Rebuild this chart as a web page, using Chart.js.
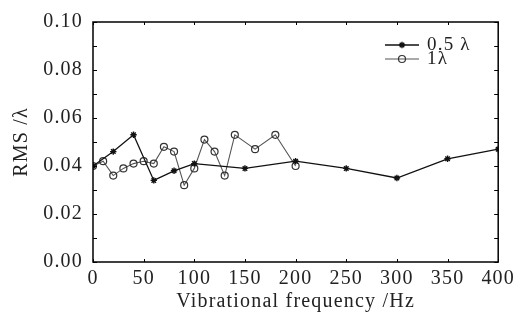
<!DOCTYPE html>
<html>
<head>
<meta charset="utf-8">
<script src="https://cdn.jsdelivr.net/npm/chart.js@4/dist/chart.umd.min.js"></script>
<style>
  html, body { margin: 0; padding: 0; background: #fff; }
  #wrap { width: 520px; height: 324px; }
</style>
</head>
<body>
<div id="wrap"><canvas id="rmsChart"></canvas></div>
<script>
// data
const halfLambdaFreq = [0, 20, 40, 60, 80, 100, 150, 200, 250, 300, 350, 400]
const halfLambdaRms  = [0.040, 0.046, 0.053, 0.034, 0.038, 0.041, 0.039, 0.042, 0.039, 0.035, 0.043, 0.047]
const oneLambdaFreq  = [0, 10, 20, 30, 40, 50, 60, 70, 80, 90, 100, 110, 120, 130, 140, 160, 180, 200]
const oneLambdaRms   = [0.040, 0.042, 0.036, 0.039, 0.041, 0.042, 0.041, 0.048, 0.046, 0.032, 0.039, 0.051, 0.046, 0.036, 0.053, 0.047, 0.053, 0.040]
const seriesNames = ['0.5 \u03bb', '1\u03bb']
const xTicks = [0, 50, 100, 150, 200, 250, 300, 350, 400]
const yTicks = [0, 0.02, 0.04, 0.06, 0.08, 0.10]
const yTickLabels = ['0.00', '0.02', '0.04', '0.06', '0.08', '0.10']
const yMinorStep = 0.01

const serif = "'Liberation Serif', 'Times New Roman', serif"
const ink = '#222'

const toPoints = (xs, ys) => xs.map((x, i) => ({x: x, y: ys[i]}))

// wide glyph spacing like the scanned figure
const spacing = {
    id: 'spacing',
    beforeLayout(chart) { chart.ctx.letterSpacing = '1.2px' },
    beforeDraw(chart) { chart.ctx.letterSpacing = '1.2px' }
}

// box around the plot with inward ticks on all sides
const frame = {
    id: 'frame',
    afterDatasetsDraw(chart) {
        const {ctx, chartArea: a, scales: {x, y}} = chart
        ctx.save()
        ctx.strokeStyle = '#000'
        ctx.lineWidth = 1.5
        ctx.strokeRect(a.left, a.top, a.right - a.left, a.bottom - a.top)
        ctx.lineWidth = 1
        ctx.beginPath()
        for (let v = 0; v <= 0.1 + 1e-9; v += yMinorStep) {
            const py = Math.round(y.getPixelForValue(v)) + 0.5
            ctx.moveTo(a.left, py); ctx.lineTo(a.left + 4, py)
            ctx.moveTo(a.right, py); ctx.lineTo(a.right - 4, py)
        }
        xTicks.forEach(v => {
            const px = Math.round(x.getPixelForValue(v)) + 0.5
            ctx.moveTo(px, a.bottom); ctx.lineTo(px, a.bottom - 3)
            ctx.moveTo(px, a.top); ctx.lineTo(px, a.top + 3)
        })
        ctx.stroke()
        ctx.restore()
    }
}

// legend drawn inside the plot, line + marker + label
const innerLegend = {
    id: 'innerLegend',
    afterDraw(chart) {
        const ctx = chart.ctx
        const rows = [45, 59]
        ctx.save()
        ctx.letterSpacing = '1.2px'
        chart.data.datasets.forEach((ds, i) => {
            const yy = rows[i]
            ctx.strokeStyle = ds.borderColor
            ctx.lineWidth = ds.borderWidth
            ctx.beginPath()
            ctx.moveTo(385, yy); ctx.lineTo(419, yy)
            ctx.stroke()
            ctx.strokeStyle = ds.pointBorderColor
            ctx.fillStyle = ds.pointBackgroundColor
            ctx.lineWidth = ds.pointBorderWidth
            Chart.helpers.drawPoint(ctx, {pointStyle: ds.pointStyle, radius: ds.pointRadius, borderWidth: ds.pointBorderWidth, rotation: 0}, 402, yy)
            ctx.fillStyle = ink
            ctx.font = '19px ' + serif
            ctx.textAlign = 'left'
            ctx.textBaseline = 'middle'
            ctx.fillText(ds.label, 427, yy)
        })
        ctx.restore()
    }
}

new Chart('rmsChart', {
    type: 'line',
    data: {
        datasets: [{
            label: seriesNames[0],
            data: toPoints(halfLambdaFreq, halfLambdaRms),
            borderColor: '#111',
            borderWidth: 1.3,
            pointStyle: 'star',
            pointRadius: 3.2,
            pointBorderWidth: 1.4,
            pointBorderColor: '#111',
            pointBackgroundColor: '#111',
            tension: 0
        }, {
            label: seriesNames[1],
            data: toPoints(oneLambdaFreq, oneLambdaRms),
            borderColor: '#555',
            borderWidth: 1.1,
            pointStyle: 'circle',
            pointRadius: 3.5,
            pointBorderWidth: 1.2,
            pointBorderColor: '#333',
            pointBackgroundColor: 'rgba(255,255,255,0)',
            tension: 0
        }]
    },
    options: {
        responsive: true,
        maintainAspectRatio: false,
        animation: false,
        events: [],
        layout: {padding: {left: 0, top: 20, right: 18, bottom: 0}},
        plugins: {legend: {display: false}, tooltip: {enabled: false}},
        scales: {
            x: {
                type: 'linear',
                min: 0, max: 400,
                afterBuildTicks: s => { s.ticks = xTicks.map(v => ({value: v})) },
                afterFit: s => { s.height = 62 },
                grid: {display: false, drawTicks: false},
                border: {display: false},
                ticks: {color: ink, padding: 5, maxRotation: 0, font: {family: serif, size: 20}},
                title: {display: true, text: 'Vibrational frequency /Hz', color: ink, padding: {top: 0, bottom: 10}, font: {family: serif, size: 20}}
            },
            y: {
                min: 0, max: 0.1,
                afterBuildTicks: s => { s.ticks = yTicks.map(v => ({value: v})) },
                afterFit: s => { s.width = 93 },
                grid: {display: false, drawTicks: false},
                border: {display: false},
                ticks: {
                    color: ink, padding: 10, font: {family: serif, size: 20},
                    callback: (v, i) => yTickLabels[i]
                },
                title: {display: true, text: 'RMS /\u03bb', color: ink, padding: {top: 10, bottom: 0}, font: {family: serif, size: 20}}
            }
        }
    },
    plugins: [spacing, frame, innerLegend]
})
</script>
</body>
</html>
